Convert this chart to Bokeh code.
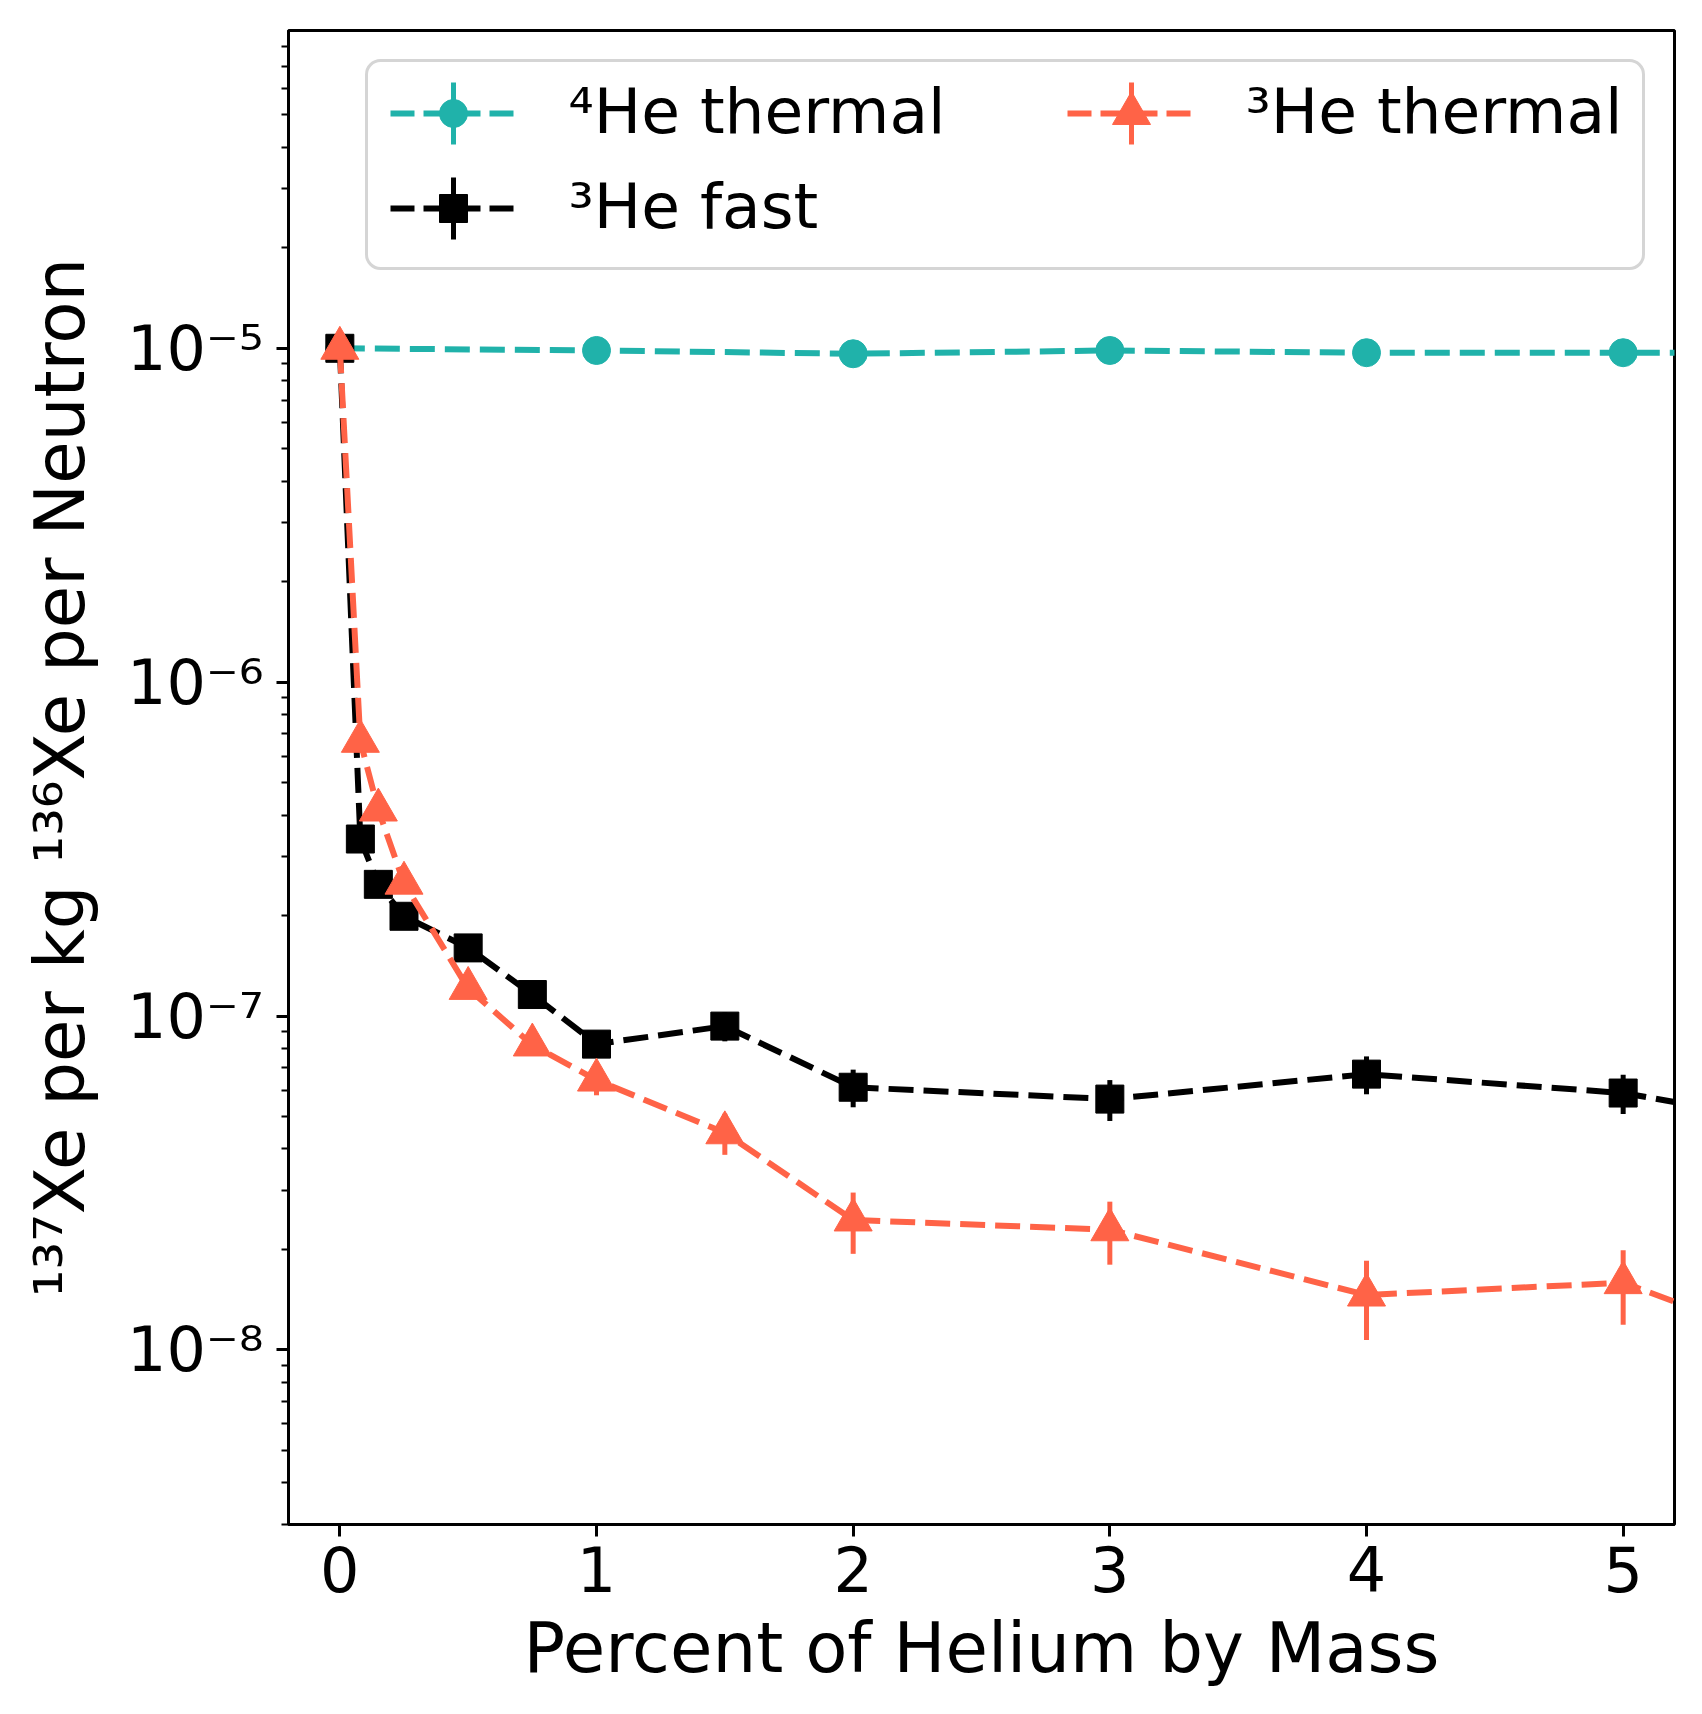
import numpy as np
from bokeh.plotting import figure
from bokeh.models import Range1d, LinearScale, FixedTicker, CustomJSTickFormatter, ColumnDataSource
from bokeh.core.properties import value
from bokeh.embed import file_html
from bokeh.resources import INLINE

# ---------------- data ----------------
he_pct = [0, 0.08, 0.15, 0.25, 0.5, 0.75, 1, 1.5, 2, 3, 4, 5, 6]
he4_pct = [0, 1, 2, 3, 4, 5, 6]

he4_thermal = [1.0e-5, 0.985e-5, 0.963e-5, 0.985e-5, 0.970e-5, 0.970e-5, 0.970e-5]
he4_thermal_err = [1.5e-7, 1.5e-7, 1.5e-7, 1.5e-7, 1.5e-7, 1.5e-7, 1.5e-7]

he3_fast = [1.0e-5, 3.39e-7, 2.48e-7, 1.99e-7, 1.60e-7, 1.16e-7, 8.24e-8,
            9.33e-8, 6.12e-8, 5.64e-8, 6.70e-8, 5.88e-8, 4.31e-8]
he3_fast_err = [2e-7, 8e-9, 6e-9, 6e-9, 6e-9, 8e-9, 7e-9,
                9.3e-9, 7.9e-9, 7.9e-9, 8.7e-9, 7.9e-9, 6e-9]

he3_thermal = [1.0e-5, 6.65e-7, 4.14e-7, 2.50e-7, 1.21e-7, 8.19e-8, 6.43e-8,
               4.47e-8, 2.45e-8, 2.29e-8, 1.46e-8, 1.59e-8, 8.25e-9]
he3_thermal_err = [2e-7, 2e-8, 1.2e-8, 8e-9, 5e-9, 4e-9, 6.4e-9,
                   6.3e-9, 5.1e-9, 4.9e-9, 3.9e-9, 4.0e-9, 2.5e-9]

x_ticks = [0, 1, 2, 3, 4, 5]
y_ticks = [1e-8, 1e-7, 1e-6, 1e-5]
legend_labels = ["\u2074He thermal", "\u00b3He fast", "\u00b3He thermal"]
x_label = "Percent of Helium by Mass"
y_label = "\u00b9\u00b3\u2077Xe per kg \u00b9\u00b3\u2076Xe per Neutron"

TEAL = "#20B2AA"
TOMATO = "#FF6347"
BLACK = "#000000"
FONT = "DejaVu Sans"

# ---------------- figure ----------------
FW, FH = 1386, 1494
p = figure(frame_width=FW, frame_height=FH,
           x_range=Range1d(-0.2, 5.2), y_range=Range1d(3.0e-9, 8.95e-5),
           y_axis_type="log", output_backend="svg", toolbar_location=None,
           min_border_left=288, min_border_right=12, min_border_top=30, min_border_bottom=178)
p.background_fill_color = "white"
p.border_fill_color = "white"
p.xgrid.visible = False
p.ygrid.visible = False
p.outline_line_color = "black"
p.outline_line_width = 3
p.outline_line_alpha = 1.0


def series(x, y, err, color, marker, size):
    x = np.asarray(x, dtype=float)
    y = np.asarray(y, dtype=float)
    e = np.asarray(err, dtype=float)
    src = ColumnDataSource(dict(x=x, y=y, lo=y - e, hi=y + e))
    p.segment("x", "lo", "x", "hi", source=src, line_color=color, line_width=5)
    p.line("x", "y", source=src, line_color=color, line_width=6, line_dash="25 10")
    p.scatter("x", "y", source=src, marker=marker, size=size,
              fill_color=color, line_color=color, line_width=1)


series(he4_pct, he4_thermal, he4_thermal_err, TEAL, "circle", 28)
series(he_pct, he3_fast, he3_fast_err, BLACK, "square", 28)
series(he_pct, he3_thermal, he3_thermal_err, TOMATO, "triangle", 38)

# ---------------- axes ----------------
p.xaxis.ticker = FixedTicker(ticks=x_ticks, minor_ticks=[])
y_minor = [k * 10.0 ** e for e in range(-9, -4) for k in range(2, 10)]
p.yaxis.ticker = FixedTicker(ticks=y_ticks, minor_ticks=y_minor)
p.yaxis.formatter = CustomJSTickFormatter(code="""
const sup = {"-": "\u207b", "0": "\u2070", "1": "\u00b9", "2": "\u00b2", "3": "\u00b3",
             "4": "\u2074", "5": "\u2075", "6": "\u2076", "7": "\u2077", "8": "\u2078", "9": "\u2079"};
const e = Math.round(Math.log10(tick));
return "10" + String(e).split("").map(c => sup[c]).join("");
""")

for ax in (p.xaxis, p.yaxis):
    ax.axis_line_width = 3
    ax.axis_line_color = "black"
    ax.major_tick_line_width = 3
    ax.major_tick_out = 12
    ax.major_tick_in = 0
    ax.minor_tick_line_width = 2
    ax.minor_tick_out = 7
    ax.minor_tick_in = 0
    ax.major_label_text_font = FONT
    ax.major_label_text_font_size = "62px"
    ax.major_label_text_color = "black"
    ax.axis_label_text_font = FONT
    ax.axis_label_text_font_size = "69px"
    ax.axis_label_text_font_style = "normal"
    ax.axis_label_text_color = "black"

p.xaxis.axis_label = x_label
p.yaxis.axis_label = y_label
p.xaxis.major_label_standoff = 9
p.yaxis.major_label_standoff = 13
p.xaxis.axis_label_standoff = 13
p.yaxis.axis_label_standoff = 24

# ---------------- legend (drawn in frame pixel space) ----------------
p.extra_x_ranges = {"lx": Range1d(0, FW)}
p.extra_y_ranges = {"ly": Range1d(0, FH)}
p.extra_x_scales = {"lx": LinearScale()}
p.extra_y_scales = {"ly": LinearScale()}
LR = dict(x_range_name="lx", y_range_name="ly")

p.quad(left=[78], right=[1355], bottom=[1256], top=[1464], fill_color="white", fill_alpha=0.8,
       line_color="#d5d5d5", line_width=3, border_radius=14, **LR)

items = [
    (102, 228, 165, 1411, TEAL, "circle", 28),
    (102, 228, 165, 1316, BLACK, "square", 28),
    (779, 906, 843, 1411, TOMATO, "triangle", 38),
]
for (hx0, hx1, mx, ry, color, marker, size) in items:
    p.segment(x0=[mx], y0=[ry - 31], x1=[mx], y1=[ry + 31], line_color=color, line_width=5, **LR)
    p.segment(x0=[hx0], y0=[ry], x1=[hx1], y1=[ry], line_color=color, line_width=6,
              line_dash="24 9", **LR)
    p.scatter(x=[mx], y=[ry], marker=marker, size=size, fill_color=color, line_color=color,
              line_width=1, **LR)

p.text(x=[280, 280, 957], y=[1413, 1318, 1413], text=legend_labels,
       text_font=value(FONT), text_font_size=value("63px"), text_color="black",
       text_align="left", text_baseline="alphabetic", **LR)

with open("out.html", "w", encoding="utf-8") as f:
    f.write(file_html(p, INLINE))
